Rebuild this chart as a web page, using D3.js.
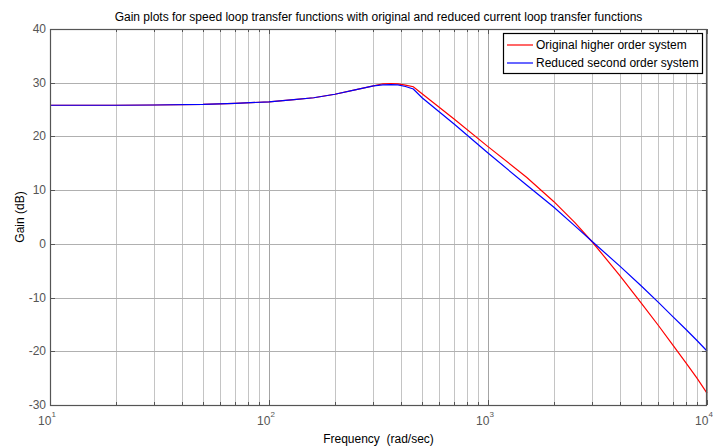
<!DOCTYPE html>
<html>
<head>
<meta charset="utf-8">
<script src="https://cdn.jsdelivr.net/npm/d3@7"></script>
<style>
  body { margin: 0; background: #fff; }
  svg { display: block; font-family: "Liberation Sans", Arial, sans-serif; }
</style>
</head>
<body>
<svg id="chart" width="713" height="448"></svg>
<script>
// ---- data ----
const frequency = [10, 20, 30, 50, 70, 100, 130, 160, 200, 250, 300, 331, 360, 388, 420, 456, 500, 700, 1000, 1500, 2000, 2500, 3000, 4000, 5000, 6000, 7000, 8000, 9000, 10000];
const originalGain = [25.8, 25.8, 25.85, 25.95, 26.15, 26.45, 26.85, 27.2, 27.85, 28.7, 29.4, 29.8, 29.85, 29.8, 29.55, 29.26, 27.94, 23.24, 18.1, 12.4, 7.85, 3.9, 0.3, -5.9, -11.0, -15.2, -18.9, -22.1, -25.0, -27.8];
const reducedGain  = [25.8, 25.8, 25.85, 25.95, 26.15, 26.45, 26.85, 27.2, 27.85, 28.7, 29.4, 29.6, 29.65, 29.6, 29.3, 28.83, 27.2, 22.3, 16.9, 10.95, 6.8, 3.3, 0.4, -4.15, -7.8, -10.9, -13.6, -15.9, -18.0, -19.95];
const yTicks = [-30, -20, -10, 0, 10, 20, 30, 40];
const xDecades = [1, 2, 3, 4];
const seriesNames = ["Original higher order system", "Reduced second order system"];
const seriesColors = ["#ff0000", "#0000ff"];
const titleText = "Gain plots for speed loop transfer functions with original and reduced current loop transfer functions";
const xLabel = "Frequency  (rad/sec)";
const yLabel = "Gain (dB)";

// ---- layout ----
const svg = d3.select("#chart");
const L = 50, R = 707, T = 29, B = 405;
const x = d3.scaleLog().domain([10, 10000]).range([L, R]);
const y = d3.scaleLinear().domain([-30, 40]).range([B, T]);

// minor/major grid values
const minor = [];
xDecades.slice(0, -1).forEach(e => { for (let k = 2; k <= 9; k++) minor.push(k * Math.pow(10, e)); });
const major = xDecades.map(e => Math.pow(10, e));

const g = svg.append("g");
g.selectAll(".vminor").data(minor).enter().append("line")
  .attr("x1", d => Math.round(x(d)) + 0.5).attr("x2", d => Math.round(x(d)) + 0.5)
  .attr("y1", T).attr("y2", B).attr("stroke", "#c4c4c4").attr("stroke-width", 1);
g.selectAll(".vmajor").data(major).enter().append("line")
  .attr("x1", d => Math.round(x(d)) + 0.5).attr("x2", d => Math.round(x(d)) + 0.5)
  .attr("y1", T).attr("y2", B).attr("stroke", "#a4a4a4").attr("stroke-width", 1);
g.selectAll(".hgrid").data(yTicks).enter().append("line")
  .attr("x1", L).attr("x2", R)
  .attr("y1", d => Math.round(y(d)) + 0.5).attr("y2", d => Math.round(y(d)) + 0.5)
  .attr("stroke", "#b0b0b0").attr("stroke-width", 1);

// tick marks inside
const tickLen = 5;
g.selectAll(".ytl").data(yTicks).enter().append("line")
  .attr("x1", L).attr("x2", L + tickLen)
  .attr("y1", d => Math.round(y(d)) + 0.5).attr("y2", d => Math.round(y(d)) + 0.5)
  .attr("stroke", "#555");
g.selectAll(".ytr").data(yTicks).enter().append("line")
  .attr("x1", R - tickLen).attr("x2", R)
  .attr("y1", d => Math.round(y(d)) + 0.5).attr("y2", d => Math.round(y(d)) + 0.5)
  .attr("stroke", "#555");
g.selectAll(".xtb").data(minor.concat(major)).enter().append("line")
  .attr("x1", d => Math.round(x(d)) + 0.5).attr("x2", d => Math.round(x(d)) + 0.5)
  .attr("y1", B).attr("y2", d => B - (major.includes(d) ? 5 : 3))
  .attr("stroke", "#555");
g.selectAll(".xtt").data(minor.concat(major)).enter().append("line")
  .attr("x1", d => Math.round(x(d)) + 0.5).attr("x2", d => Math.round(x(d)) + 0.5)
  .attr("y1", T).attr("y2", d => T + (major.includes(d) ? 5 : 3))
  .attr("stroke", "#555");

// curves
const line = d3.line().x((d, i) => x(frequency[i])).y(d => y(d));
[originalGain, reducedGain].forEach((s, i) => {
  g.append("path").attr("d", line(s)).attr("fill", "none")
    .attr("stroke", seriesColors[i]).attr("stroke-width", 1.2);
});

// axes box
g.append("rect").attr("x", L + 0.5).attr("y", T + 0.5).attr("width", R - L - 1).attr("height", B - T)
  .attr("fill", "none").attr("stroke", "#555").attr("stroke-width", 1.2);

// y tick labels
g.selectAll(".ylab").data(yTicks).enter().append("text")
  .attr("x", L - 4).attr("y", d => y(d) + 4).attr("text-anchor", "end")
  .attr("font-size", 12).attr("fill", "#555").text(d => d);

// x tick labels (10^n)
const xl = g.selectAll(".xlab").data(xDecades).enter().append("text")
  .attr("x", d => x(Math.pow(10, d)) - 3).attr("y", 425).attr("text-anchor", "middle")
  .attr("font-size", 12).attr("fill", "#555");
xl.append("tspan").text("10");
xl.append("tspan").attr("dy", -8).attr("font-size", 8).text(d => d);

// title and axis labels
svg.append("text").attr("x", (L + R) / 2).attr("y", 21).attr("text-anchor", "middle")
  .attr("font-size", 12).attr("fill", "#000").text(titleText);
svg.append("text").attr("x", (L + R) / 2).attr("y", 443).attr("text-anchor", "middle")
  .attr("font-size", 12).attr("fill", "#000").style("white-space", "pre").text(xLabel);
svg.append("text").attr("transform", `translate(24,${(T + B) / 2}) rotate(-90)`)
  .attr("text-anchor", "middle").attr("font-size", 12).attr("fill", "#000").text(yLabel);

// legend
const lg = svg.append("g");
lg.append("rect").attr("x", 503.5).attr("y", 33.5).attr("width", 199).attr("height", 40)
  .attr("fill", "#fff").attr("stroke", "#000").attr("stroke-width", 1.2);
seriesNames.forEach((n, i) => {
  const yy = 45 + i * 18;
  lg.append("line").attr("x1", 507).attr("x2", 533).attr("y1", yy).attr("y2", yy)
    .attr("stroke", seriesColors[i]).attr("stroke-width", 1.2);
  lg.append("text").attr("x", 536).attr("y", yy + 4).attr("font-size", 12).attr("fill", "#000").text(n);
});
</script>
</body>
</html>
